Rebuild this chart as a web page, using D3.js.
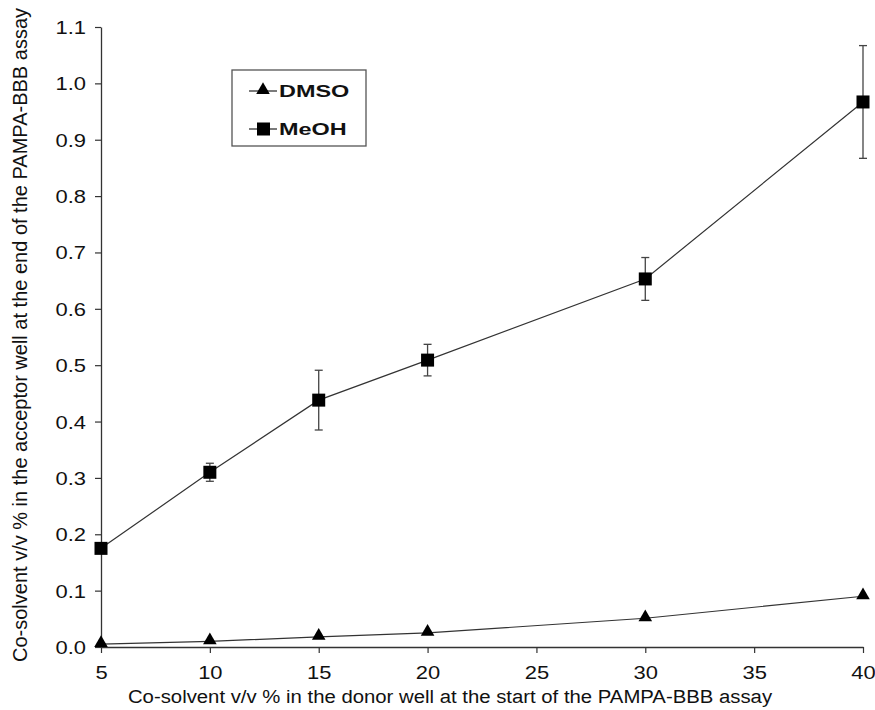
<!DOCTYPE html>
<html>
<head>
<meta charset="utf-8">
<script src="https://cdn.jsdelivr.net/npm/d3@7"></script>
<style>
body { margin: 0; background: #fff; }
text { font-family: "Liberation Sans", Arial, sans-serif; fill: #111; }
</style>
</head>
<body>
<div id="chart"></div>
<script>
const xValues = [5, 10, 15, 20, 30, 40];
const dmso = [0.005, 0.010, 0.018, 0.025, 0.051, 0.090];
const meoh = [0.175, 0.310, 0.438, 0.509, 0.653, 0.967];
const meohErr = [0, 0.016, 0.053, 0.028, 0.038, 0.100];
const xTicks = [5, 10, 15, 20, 25, 30, 35, 40];
const yTicks = [0, 0.1, 0.2, 0.3, 0.4, 0.5, 0.6, 0.7, 0.8, 0.9, 1.0, 1.1];

const width = 875, height = 710;
const margin = {top: 27, right: 12, bottom: 63, left: 101};
// the original picture is a bit wider than tall in its lettering
const stretch = 1.22;

const svg = d3.select('#chart').append('svg')
  .attr('width', width)
  .attr('height', height);

const xScale = d3.scaleLinear().domain([5, 40]).range([margin.left, width - margin.right]);
const yScale = d3.scaleLinear().domain([0, 1.1]).range([height - margin.bottom, margin.top]);

// axes
const xAxis = svg.append('g')
  .attr('transform', `translate(0,${height - margin.bottom})`)
  .call(d3.axisBottom(xScale).tickValues(xTicks).tickFormat(d3.format('d')).tickSize(6).tickSizeOuter(0));

const yAxis = svg.append('g')
  .attr('transform', `translate(${margin.left},0)`)
  .call(d3.axisLeft(yScale).tickValues(yTicks).tickFormat(d3.format('.1f')).tickSize(6).tickSizeOuter(0));

[xAxis, yAxis].forEach(g => {
  g.attr('font-size', null);
  g.select('.domain').attr('stroke', '#333').attr('stroke-width', 1.3);
  g.selectAll('.tick line').attr('stroke', '#333').attr('stroke-width', 1.2);
  g.selectAll('.tick text')
    .attr('fill', '#111')
    .attr('dy', null)
    .style('font-size', '18px')
    .style('font-family', '"Liberation Sans", Arial, sans-serif');
});
xAxis.selectAll('.tick text')
  .attr('x', 0).attr('y', 0)
  .attr('transform', `translate(0,32) scale(${stretch},1)`);
yAxis.selectAll('.tick text')
  .attr('x', 0).attr('y', 0)
  .attr('transform', `translate(-15,6.5) scale(${stretch},1)`);

// axis titles
svg.append('text')
  .attr('transform', 'translate(450,703) scale(1.13,1)')
  .attr('text-anchor', 'middle')
  .style('font-size', '18px')
  .text('Co-solvent v/v % in the donor well at the start of the PAMPA-BBB  assay');

svg.append('text')
  .attr('transform', 'translate(27,662) rotate(-90)')
  .attr('text-anchor', 'start')
  .style('font-size', '20px')
  .text('Co-solvent v/v % in the acceptor well at the end of the PAMPA-BBB assay');

const line = d3.line()
  .x(d => xScale(d[0]))
  .y(d => yScale(d[1]));

const dmsoData = xValues.map((x, i) => [x, dmso[i]]);
const meohData = xValues.map((x, i) => [x, meoh[i], meohErr[i]]);

// error bars
const err = svg.append('g');
meohData.filter(d => d[2] > 0).forEach(d => {
  const x = xScale(d[0]);
  const y0 = yScale(d[1] - d[2]), y1 = yScale(d[1] + d[2]);
  err.append('line').attr('x1', x).attr('x2', x).attr('y1', y0).attr('y2', y1)
    .attr('stroke', '#444').attr('stroke-width', 1.3);
  [y0, y1].forEach(y => {
    err.append('line').attr('x1', x - 4).attr('x2', x + 4).attr('y1', y).attr('y2', y)
      .attr('stroke', '#444').attr('stroke-width', 1.3);
  });
});

svg.append('path').datum(dmsoData)
  .attr('d', line).attr('fill', 'none').attr('stroke', '#333').attr('stroke-width', 1.2);
svg.append('path').datum(meohData)
  .attr('d', line).attr('fill', 'none').attr('stroke', '#333').attr('stroke-width', 1.2);

const triangle = d3.symbol().type(d3.symbolTriangle).size(80);

svg.append('g').selectAll('path')
  .data(dmsoData)
  .enter()
  .append('path')
  .attr('d', triangle)
  .attr('transform', d => `translate(${xScale(d[0])},${yScale(d[1]) - 1})`)
  .attr('fill', '#000');

svg.append('g').selectAll('rect')
  .data(meohData)
  .enter()
  .append('rect')
  .attr('x', d => xScale(d[0]) - 6.5)
  .attr('y', d => yScale(d[1]) - 6.5)
  .attr('width', 13)
  .attr('height', 13)
  .attr('fill', '#000');

// legend
const legend = svg.append('g');
legend.append('rect')
  .attr('x', 232).attr('y', 70).attr('width', 134).attr('height', 76)
  .attr('fill', '#fff').attr('stroke', '#555').attr('stroke-width', 1.3);

const legendItems = [{name: 'DMSO', y: 91, shape: 'tri'}, {name: 'MeOH', y: 129, shape: 'sq'}];
legendItems.forEach(item => {
  legend.append('line')
    .attr('x1', 249).attr('x2', 277).attr('y1', item.y).attr('y2', item.y)
    .attr('stroke', '#222').attr('stroke-width', 1.2);
  if (item.shape === 'tri') {
    legend.append('path').attr('d', triangle)
      .attr('transform', `translate(263,${item.y - 1})`).attr('fill', '#000');
  } else {
    legend.append('rect').attr('x', 257).attr('y', item.y - 6.5)
      .attr('width', 13).attr('height', 13).attr('fill', '#000');
  }
  legend.append('text')
    .attr('transform', `translate(279,${item.y + 6}) scale(1.42,1)`)
    .style('font-size', '16.5px').style('font-weight', 'bold')
    .attr('fill', '#000')
    .text(item.name);
});
</script>
</body>
</html>
